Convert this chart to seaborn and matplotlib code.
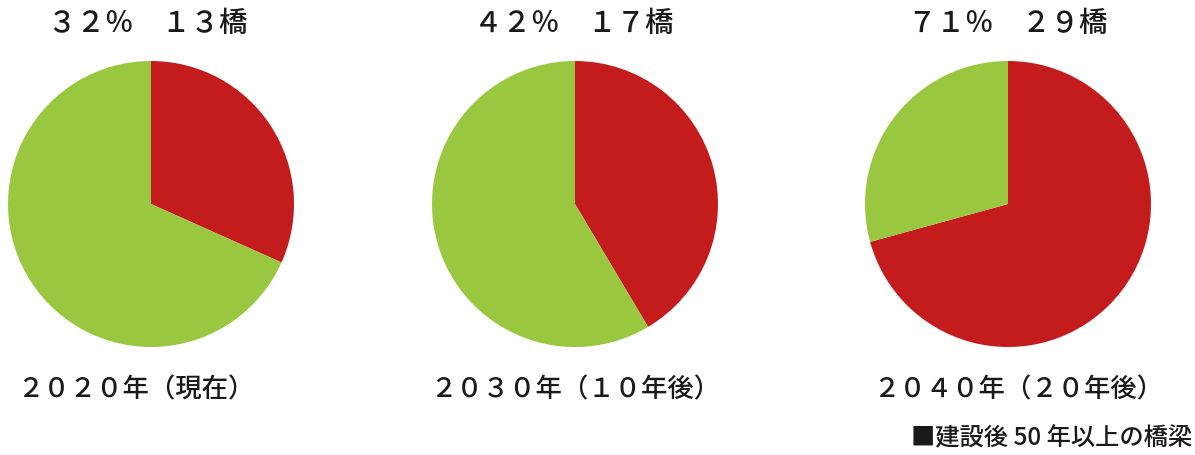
import matplotlib
matplotlib.use("Agg")
import matplotlib.pyplot as plt
import seaborn as sns

# Data
years = ["２０２０年（現在）", "２０３０年（１０年後）", "２０４０年（２０年後）"]
percent_labels = ["３２％　１３橋", "４２％　１７橋", "７１％　２９橋"]
old_bridges = [13, 17, 29]
total_bridges = 41
legend_text = "■建設後 50 年以上の橋梁"

sns.set_theme(style="white")
plt.rcParams['font.family'] = ['Noto Sans CJK JP', 'DejaVu Sans']

red = "#C41C1C"
green = "#99C840"

W, H = 1195, 456
fig = plt.figure(figsize=(W / 100, H / 100), dpi=100)
fig.patch.set_facecolor("white")

centers_x = [151, 575, 1008]
center_y = 205
radius = 143
title_x = [148, 574, 1008]
year_x = [136, 575, 1018]

for i in range(3):
    cx = centers_x[i]
    ax = fig.add_axes([(cx - radius) / W, 1 - (center_y + radius) / H,
                       2 * radius / W, 2 * radius / H])
    vals = [old_bridges[i], total_bridges - old_bridges[i]]
    ax.pie(vals, colors=[red, green], startangle=90, counterclock=False,
           wedgeprops=dict(linewidth=0))
    ax.set_xlim(-1, 1)
    ax.set_ylim(-1, 1)
    ax.set_axis_off()
    fig.text(title_x[i] / W, 1 - 24 / H, percent_labels[i], ha="center", va="center",
             fontsize=20.5, color="#1a1a1a", fontweight="medium")
    fig.text(year_x[i] / W, 1 - 390 / H, years[i], ha="center", va="center",
             fontsize=19, color="#1a1a1a", fontweight="medium")

fig.text(1192 / W, 1 - 438 / H, legend_text, ha="right", va="center",
         fontsize=17.5, color="#1a1a1a", fontweight="medium")

fig.savefig("out.png", dpi=100, facecolor="white")
